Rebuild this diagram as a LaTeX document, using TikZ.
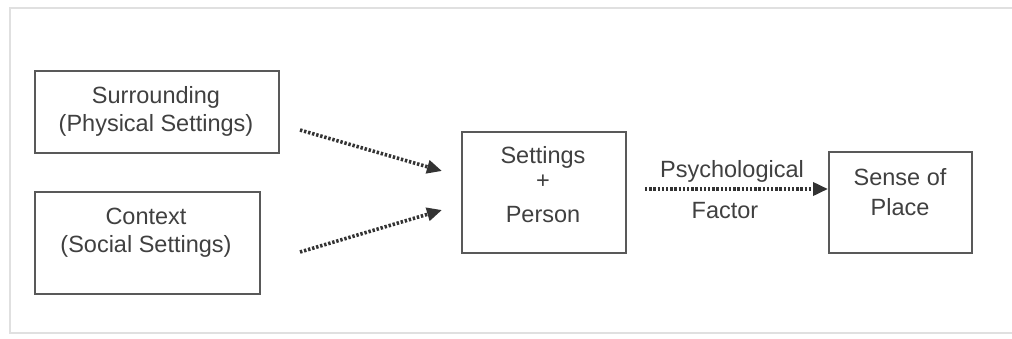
\documentclass[tikz,border=0pt]{standalone}
\usepackage{fontspec}
\setmainfont{Liberation Sans}
\usetikzlibrary{arrows.meta}
\begin{document}
\begin{tikzpicture}[x=1pt,y=-1pt,
  box/.style={draw=black!65,line width=2.2pt,fill=white,inner sep=0pt},
  lbl/.style={text=black!75,font=\fontsize{23.5}{26}\selectfont,align=center,inner sep=0pt},
  dotarrow/.style={line width=3.6pt,draw=black!80,dash pattern=on 2.4pt off 1.8pt,
    -{Triangle[length=15pt,width=13pt]}}]
\useasboundingbox (0,0) rectangle (1012,338);
\fill[white] (0,0) rectangle (1012,338);
\draw[black!12,line width=1.5pt] (1013,8) -- (10,8) -- (10,333) -- (1013,333);
% boxes
\node[box,minimum width=244pt,minimum height=82pt,anchor=north west] (sur) at (34,70) {};
\node[box,minimum width=225pt,minimum height=102pt,anchor=north west] (con) at (34,191) {};
\node[box,minimum width=164pt,minimum height=121pt,anchor=north west] (sp) at (461,131) {};
\node[box,minimum width=143pt,minimum height=101pt,anchor=north west] (sop) at (828,151) {};
% texts
\node[lbl] (t1) at (156,97) {Surrounding};
\node[lbl] (t2) at (156,125) {(Physical Settings)};
\node[lbl] (t3) at (146,216) {Context};
\node[lbl] (t4) at (146,246) {(Social Settings)};
\node[lbl] (t5) at (543,157) {Settings};
\node[lbl] (t6) at (543,182) {+};
\node[lbl] (t7) at (543,215) {Person};
\node[lbl] (t8) at (900,177) {Sense of};
\node[lbl] (t9) at (900,207) {Place};
% arrows
\coordinate (a1) at (300,130);
\coordinate (b1) at (442,171);
\coordinate (a2) at (300,252);
\coordinate (b2) at (442,210);
\coordinate (a3) at (645,189);
\draw[dotarrow] (a1) -- (b1);
\draw[dotarrow] (a2) -- (b2);
\draw[dotarrow] (a3) -- (sop.west |- a3);
\node[lbl] (p1) at (732,171) {Psychological};
\node[lbl] (p2) at (725,211) {Factor};
\end{tikzpicture}
\end{document}
